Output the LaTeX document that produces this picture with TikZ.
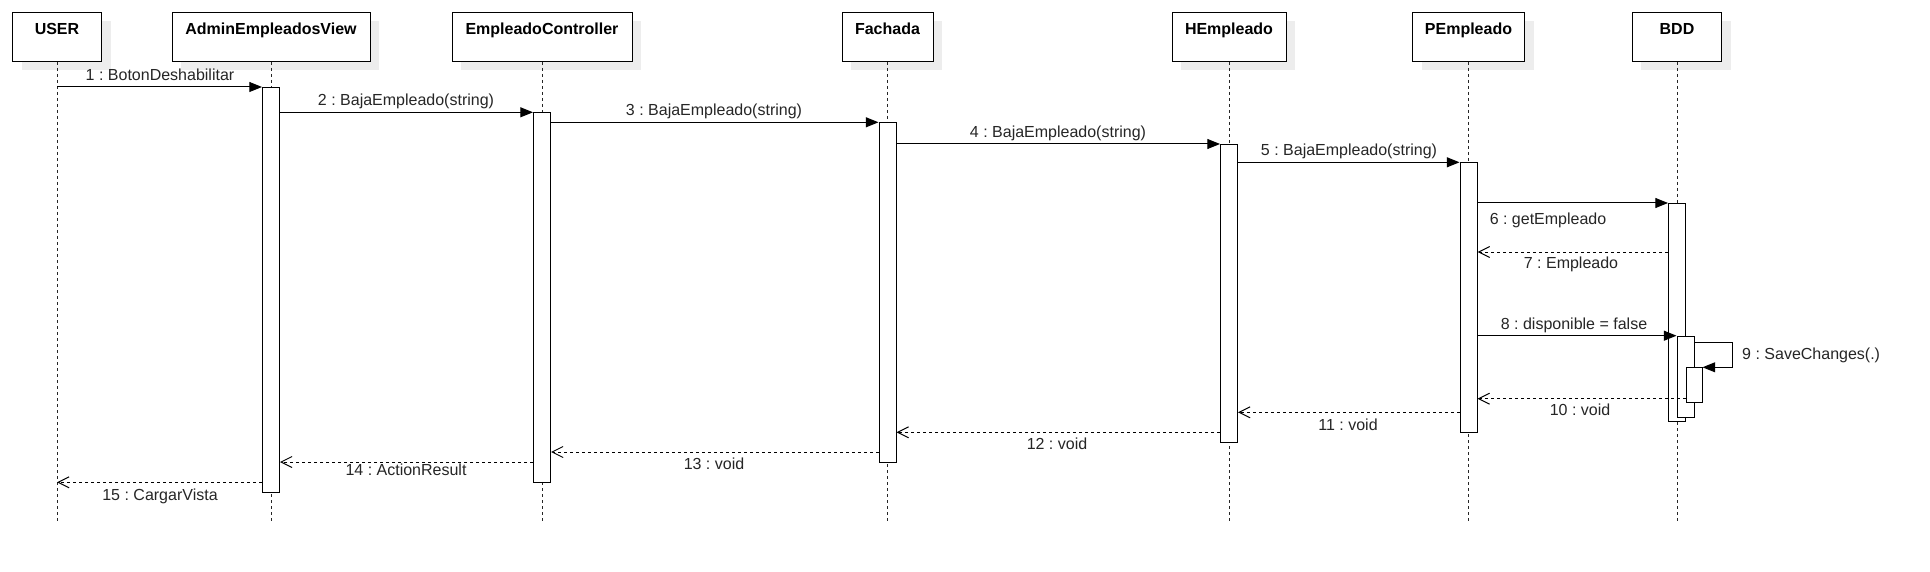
\documentclass[tikz,border=0pt]{standalone}
\usepackage{fontspec}
\setmainfont{Liberation Sans}
\usetikzlibrary{arrows.meta,shadows}
\frenchspacing
\begin{document}
\frenchspacing
\begin{tikzpicture}[x=1pt,y=-1pt,
  head/.style={draw, line width=1pt, fill=white, inner xsep=0pt, inner ysep=0pt,
    text height=21.5pt, text depth=27pt, minimum width=#1, anchor=north,
    font=\fontsize{16}{19}\selectfont\bfseries,
    drop shadow={opacity=1, fill=black!7, shadow xshift=9pt, shadow yshift=-8.5pt}},
  life/.style={line width=0.9pt, dash pattern=on 3pt off 3pt, black!85},
  bar/.style={draw, line width=1pt, fill=white, minimum width=17pt, inner sep=0pt, anchor=north, minimum height=#1},
  call/.style={line width=1pt, -{Triangle[length=12.7pt,width=10pt]}},
  ret/.style={line width=1pt, dash pattern=on 3pt off 3pt, -{Straight Barb[length=11pt,width=11pt,line width=1pt]}},
  lbl/.style={font=\fontsize{16}{19}\selectfont\frenchspacing, text=black!85, inner sep=0pt, anchor=base}
]
\useasboundingbox (0,0) rectangle (1930,572);
\fill[white] (0,0) rectangle (1930,572);

% lifeline heads
\node[head=89pt]  (hU) at (57,12.5)    {USER};
\node[head=198pt] (hA) at (271,12.5)   {AdminEmpleadosView};
\node[head=180pt] (hC) at (542,12.5)   {EmpleadoController};
\node[head=91pt]  (hF) at (887.5,12.5) {Fachada};
\node[head=114pt] (hH) at (1229,12.5)  {HEmpleado};
\node[head=112pt] (hP) at (1468.5,12.5){PEmpleado};
\node[head=89.5pt](hB) at (1677,12.5)  {BDD};

% lifelines
\foreach \h in {hU,hA,hC,hF,hH,hP,hB}
  \draw[life] (\h.south) -- (\h.south |- 0,523);

% activation bars
\node[bar=405pt]   (bA)  at (hA.south |- 0,87)    {};
\node[bar=370pt]   (bC)  at (hC.south |- 0,112.3) {};
\node[bar=340pt]   (bF)  at (hF.south |- 0,122.3) {};
\node[bar=298pt]   (bH)  at (hH.south |- 0,144)   {};
\node[bar=270pt]   (bP)  at (hP.south |- 0,162.3) {};
\node[bar=218pt]   (bB)  at (hB.south |- 0,203)   {};
\node[bar=81pt]    (bB2) at (1685.5,335.7)        {};
\node[bar=34.7pt, minimum width=16pt] (bB3) at (1694,367.3) {};

% calls
\draw[call] (hU.south |- bA.north) -- (bA.north west);
\draw[call] (bA.east |- bC.north) -- (bC.north west);
\draw[call] (bC.east |- bF.north) -- (bF.north west);
\draw[call] (bF.east |- bH.north) -- (bH.north west);
\draw[call] (bH.east |- bP.north) -- (bP.north west);
\draw[call] (bP.east |- bB.north) -- (bB.north west);
\draw[ret]  (bB.west |- 0,252) -- (bP.east |- 0,252);
\draw[call] (bP.east |- bB2.north) -- (bB2.north west);
\coordinate (loopR) at (1732,342.7);
\draw[call] (bB2.east |- loopR) -- (loopR) |- (bB3.north east);
\draw[ret]  (bB3.west |- 0,398.7) -- (bP.east |- 0,398.7);
\draw[ret]  (bP.west |- 0,412.3) -- (bH.east |- 0,412.3);
\draw[ret]  (bH.west |- 0,432.3) -- (bF.east |- 0,432.3);
\draw[ret]  (bF.west |- 0,452) -- (bC.east |- 0,452);
\draw[ret]  (bC.west |- 0,462) -- (bA.east |- 0,462);
\draw[ret]  (bA.west |- 0,482.3) -- (hU.south |- 0,482.3);

% labels
\node[lbl] (l1)  at (160,80.5)   {1 : BotonDeshabilitar};
\node[lbl] (l2)  at (406,106)    {2 : BajaEmpleado(string)};
\node[lbl] (l3)  at (714,115.8)  {3 : BajaEmpleado(string)};
\node[lbl] (l4)  at (1058,137.5) {4 : BajaEmpleado(string)};
\node[lbl] (l5)  at (1349,155.8) {5 : BajaEmpleado(string)};
\node[lbl] (l6)  at (1548,225)   {6 : getEmpleado};
\node[lbl] (l7)  at (1571,269)   {7 : Empleado};
\node[lbl] (l8)  at (1574,329.5) {8 : disponible = false};
\node[lbl, anchor=base west] (l9) at (1742,359) {9 : SaveChanges(.)};
\node[lbl] (l10) at (1580,415.5) {10 : void};
\node[lbl] (l11) at (1348,430.5) {11 : void};
\node[lbl] (l12) at (1057,449.5) {12 : void};
\node[lbl] (l13) at (714,469.5)  {13 : void};
\node[lbl] (l14) at (406,475)    {14 : ActionResult};
\node[lbl] (l15) at (160,500.5)  {15 : CargarVista};
\end{tikzpicture}
\end{document}
